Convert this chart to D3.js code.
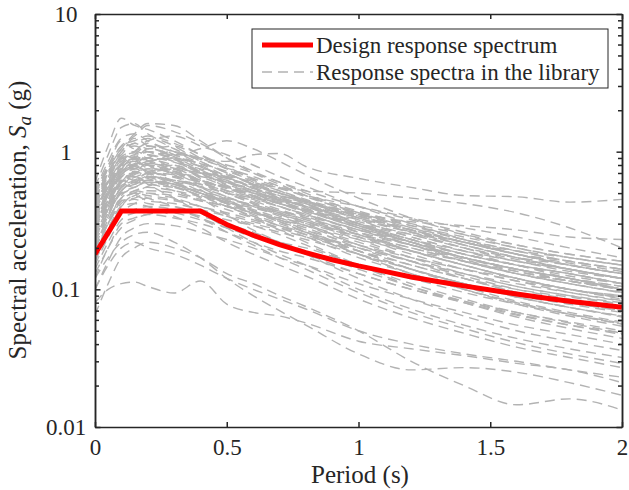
<!DOCTYPE html>
<html>
<head>
<meta charset="utf-8">
<script src="https://cdn.jsdelivr.net/npm/d3@7"></script>
<style>
  html, body { margin: 0; padding: 0; background: #ffffff; }
  svg { display: block; }
  text { font-family: "Liberation Serif", "Times New Roman", serif; fill: #262626; }
</style>
</head>
<body>
<script>
// ---------------- DATA ----------------
const periods = [0, 0.05, 0.1, 0.15, 0.2, 0.3, 0.4, 0.5, 0.6, 0.7, 0.8, 1.0, 1.2, 1.4, 1.6, 1.8, 2.0];

// Spectral accelerations (g) of the ground-motion library, one row per record
const librarySpectra = [
  [0.55,0.95,1.5,1.6,1.35,1.1,0.85,0.7,0.58,0.48,0.42,0.3,0.22,0.17,0.14,0.12,0.1],
  [0.5,0.8,1.1,1.3,1.55,1.4,1.15,0.9,0.72,0.6,0.5,0.36,0.27,0.21,0.17,0.14,0.12],
  [0.42,0.6,0.85,1.0,1.2,1.3,1.1,0.95,0.8,0.66,0.56,0.4,0.3,0.23,0.18,0.15,0.13],
  [0.38,0.55,0.8,0.9,0.85,0.95,0.9,0.8,0.7,0.6,0.52,0.4,0.32,0.26,0.21,0.18,0.16],
  [0.32,0.5,0.7,0.8,0.9,0.75,0.62,0.55,0.48,0.42,0.37,0.28,0.22,0.17,0.14,0.12,0.1],
  [0.28,0.42,0.6,0.65,0.7,0.68,0.58,0.5,0.44,0.38,0.33,0.25,0.19,0.15,0.12,0.1,0.088],
  [0.25,0.38,0.52,0.6,0.58,0.55,0.5,0.44,0.4,0.36,0.32,0.25,0.2,0.16,0.13,0.11,0.095],
  [0.35,0.55,0.75,0.7,0.8,0.72,0.6,0.5,0.42,0.35,0.3,0.21,0.16,0.12,0.095,0.08,0.07],
  [0.22,0.35,0.5,0.55,0.6,0.55,0.48,0.42,0.37,0.32,0.28,0.2,0.15,0.12,0.095,0.08,0.07],
  [0.3,0.45,0.65,0.75,0.7,0.6,0.5,0.42,0.35,0.3,0.26,0.19,0.14,0.11,0.088,0.074,0.064],
  [0.2,0.3,0.42,0.48,0.52,0.5,0.44,0.38,0.33,0.29,0.26,0.2,0.16,0.13,0.105,0.09,0.08],
  [0.45,0.7,1.0,1.1,1.0,0.9,0.78,0.65,0.55,0.47,0.4,0.29,0.22,0.17,0.135,0.115,0.1],
  [0.4,0.65,0.95,0.9,1.05,0.95,0.8,0.62,0.5,0.42,0.36,0.26,0.19,0.15,0.12,0.1,0.085],
  [0.18,0.28,0.4,0.45,0.42,0.4,0.36,0.32,0.29,0.26,0.23,0.18,0.14,0.11,0.09,0.078,0.068],
  [0.15,0.24,0.35,0.38,0.4,0.38,0.33,0.28,0.24,0.21,0.18,0.13,0.1,0.08,0.065,0.055,0.048],
  [0.33,0.5,0.68,0.8,0.85,0.9,0.78,0.65,0.55,0.46,0.4,0.3,0.23,0.18,0.15,0.13,0.11],
  [0.26,0.4,0.55,0.62,0.66,0.62,0.56,0.5,0.46,0.42,0.38,0.3,0.24,0.19,0.16,0.14,0.12],
  [0.12,0.2,0.28,0.32,0.35,0.33,0.3,0.26,0.22,0.19,0.17,0.13,0.1,0.082,0.068,0.058,0.05],
  [0.37,0.58,0.8,0.95,0.9,0.8,0.72,0.64,0.56,0.5,0.44,0.34,0.27,0.22,0.18,0.15,0.13],
  [0.24,0.36,0.5,0.52,0.5,0.46,0.4,0.34,0.29,0.25,0.21,0.15,0.11,0.085,0.068,0.057,0.048],
  [0.3,0.48,0.72,0.78,0.72,0.65,0.56,0.47,0.4,0.35,0.31,0.24,0.19,0.15,0.12,0.1,0.09],
  [0.48,0.75,1.1,1.2,1.3,1.15,0.95,0.78,0.63,0.52,0.44,0.32,0.24,0.19,0.15,0.13,0.11],
  [0.2,0.32,0.46,0.5,0.56,0.6,0.52,0.44,0.37,0.31,0.26,0.19,0.14,0.11,0.088,0.074,0.063],
  [0.16,0.25,0.36,0.42,0.46,0.44,0.4,0.35,0.31,0.28,0.25,0.2,0.16,0.13,0.11,0.095,0.083],
  [0.34,0.52,0.75,0.85,0.8,0.7,0.6,0.52,0.45,0.4,0.35,0.27,0.21,0.16,0.13,0.11,0.094],
  [0.27,0.42,0.6,0.68,0.75,0.7,0.6,0.5,0.42,0.36,0.31,0.23,0.17,0.13,0.105,0.09,0.078],
  [0.1,0.16,0.24,0.28,0.3,0.29,0.26,0.23,0.2,0.17,0.15,0.11,0.085,0.068,0.055,0.047,0.04],
  [0.43,0.68,0.92,1.0,0.95,0.85,0.7,0.57,0.47,0.4,0.34,0.25,0.19,0.15,0.12,0.1,0.087],
  [0.23,0.36,0.52,0.58,0.62,0.58,0.5,0.45,0.41,0.37,0.34,0.27,0.22,0.18,0.15,0.13,0.11],
  [0.19,0.3,0.44,0.5,0.48,0.45,0.4,0.36,0.32,0.28,0.24,0.17,0.13,0.1,0.08,0.066,0.056],
  [0.36,0.56,0.82,0.9,1.0,0.88,0.72,0.6,0.52,0.45,0.4,0.31,0.25,0.2,0.165,0.14,0.12],
  [0.29,0.45,0.66,0.7,0.64,0.56,0.48,0.4,0.34,0.29,0.25,0.18,0.13,0.1,0.08,0.066,0.056],
  [0.52,0.85,1.25,1.35,1.2,1.0,0.82,0.66,0.54,0.46,0.39,0.29,0.22,0.17,0.14,0.12,0.1],
  [0.14,0.22,0.32,0.36,0.38,0.36,0.32,0.28,0.25,0.22,0.2,0.15,0.12,0.095,0.078,0.066,0.057],
  [0.25,0.38,0.55,0.6,0.65,0.62,0.58,0.52,0.47,0.42,0.37,0.29,0.23,0.18,0.15,0.125,0.11],
  [0.38,0.6,0.85,0.88,0.8,0.68,0.55,0.45,0.37,0.31,0.26,0.18,0.13,0.1,0.078,0.064,0.054],
  [0.21,0.32,0.46,0.52,0.55,0.52,0.47,0.4,0.34,0.29,0.25,0.18,0.14,0.11,0.088,0.074,0.064],
  [0.31,0.48,0.68,0.75,0.82,0.78,0.66,0.56,0.48,0.42,0.37,0.29,0.23,0.19,0.16,0.135,0.12],
  [0.13,0.2,0.3,0.33,0.35,0.37,0.34,0.3,0.26,0.22,0.19,0.14,0.105,0.082,0.066,0.055,0.047],
  [0.26,0.4,0.57,0.6,0.66,0.6,0.5,0.42,0.36,0.31,0.27,0.21,0.17,0.14,0.12,0.1,0.09],
  [0.3,0.5,0.78,0.85,0.75,0.6,0.46,0.35,0.27,0.22,0.18,0.12,0.085,0.064,0.05,0.042,0.036],
  [0.26,0.42,0.62,0.66,0.58,0.46,0.36,0.28,0.22,0.18,0.15,0.1,0.072,0.055,0.044,0.037,0.032],
  [0.4,0.62,0.9,0.98,0.86,0.68,0.53,0.41,0.33,0.27,0.22,0.15,0.105,0.08,0.063,0.052,0.044],
  [0.22,0.34,0.5,0.5,0.46,0.4,0.33,0.26,0.21,0.17,0.14,0.095,0.068,0.052,0.041,0.034,0.029],
  [0.17,0.27,0.4,0.42,0.4,0.34,0.28,0.22,0.18,0.15,0.125,0.085,0.062,0.048,0.038,0.032,0.027],
  [0.28,0.44,0.68,0.78,0.85,0.9,0.82,0.72,0.62,0.54,0.48,0.4,0.33,0.28,0.24,0.2,0.17],
  [0.24,0.36,0.55,0.62,0.7,0.74,0.68,0.6,0.54,0.48,0.43,0.36,0.3,0.25,0.21,0.18,0.16],
  [0.33,0.52,0.75,0.8,0.7,0.58,0.5,0.43,0.37,0.32,0.27,0.19,0.14,0.105,0.082,0.068,0.058],
  [0.44,0.7,1.05,1.15,1.25,1.05,0.85,0.7,0.58,0.5,0.43,0.33,0.26,0.21,0.17,0.14,0.12],
  [0.2,0.3,0.44,0.46,0.5,0.48,0.44,0.4,0.36,0.32,0.29,0.23,0.19,0.16,0.13,0.115,0.1],
  [0.6,1.1,1.75,1.55,1.45,1.2,0.95,0.75,0.6,0.5,0.42,0.3,0.23,0.18,0.15,0.12,0.1],
  [0.5,0.75,1.05,1.35,1.6,1.55,1.2,0.9,0.7,0.58,0.48,0.35,0.26,0.2,0.16,0.14,0.12],
  [0.42,0.62,0.9,0.85,1.0,0.95,1.05,1.2,1.05,0.85,0.68,0.46,0.33,0.25,0.2,0.17,0.15],
  [0.32,0.48,0.72,0.8,0.9,1.0,0.9,0.85,0.95,0.97,0.78,0.64,0.55,0.48,0.47,0.43,0.45],
  [0.36,0.52,0.8,0.9,1.0,0.88,0.72,0.62,0.58,0.55,0.52,0.5,0.46,0.42,0.36,0.28,0.2],
  [0.26,0.4,0.62,0.7,0.75,0.72,0.62,0.54,0.48,0.44,0.4,0.35,0.31,0.29,0.27,0.24,0.23],
  [0.08,0.1,0.11,0.113,0.105,0.094,0.115,0.078,0.068,0.064,0.057,0.042,0.037,0.033,0.029,0.026,0.021],
  [0.065,0.11,0.17,0.2,0.22,0.2,0.17,0.13,0.11,0.09,0.075,0.05,0.03,0.02,0.0145,0.016,0.0133],
  [0.12,0.17,0.22,0.25,0.26,0.22,0.17,0.12,0.09,0.07,0.055,0.034,0.026,0.027,0.025,0.021,0.017],
  [0.1,0.15,0.2,0.22,0.2,0.18,0.15,0.12,0.1,0.085,0.072,0.05,0.04,0.034,0.03,0.026,0.023],
  [0.45,0.72,0.95,1.15,1.05,1.1,0.9,0.75,0.64,0.55,0.47,0.36,0.28,0.22,0.18,0.15,0.13],
  [0.35,0.6,0.9,0.8,0.95,0.85,0.75,0.68,0.58,0.5,0.44,0.33,0.26,0.21,0.17,0.14,0.12],
  [0.28,0.48,0.7,0.85,0.78,0.7,0.66,0.6,0.52,0.44,0.38,0.3,0.25,0.2,0.17,0.15,0.13],
  [0.4,0.55,0.75,0.95,1.1,0.9,0.7,0.55,0.46,0.4,0.35,0.27,0.21,0.17,0.14,0.115,0.1],
  [0.3,0.42,0.62,0.58,0.68,0.75,0.62,0.55,0.5,0.45,0.4,0.32,0.26,0.22,0.18,0.155,0.135],
  [0.22,0.38,0.55,0.66,0.6,0.52,0.45,0.4,0.36,0.33,0.3,0.24,0.2,0.16,0.135,0.115,0.1],
  [0.5,0.78,1.2,1.05,1.15,0.95,0.78,0.62,0.52,0.44,0.38,0.28,0.21,0.165,0.13,0.11,0.095],
  [0.26,0.4,0.6,0.7,0.82,0.76,0.7,0.64,0.57,0.5,0.44,0.34,0.27,0.22,0.18,0.15,0.13],
  [0.34,0.5,0.72,0.78,0.72,0.8,0.64,0.52,0.43,0.37,0.32,0.24,0.18,0.14,0.115,0.1,0.086],
  [0.18,0.3,0.48,0.55,0.6,0.58,0.5,0.43,0.39,0.35,0.31,0.25,0.21,0.17,0.14,0.12,0.105],
  [0.42,0.66,0.88,1.0,1.1,1.0,0.88,0.76,0.66,0.56,0.48,0.37,0.29,0.23,0.19,0.16,0.14],
  [0.3,0.44,0.6,0.72,0.66,0.58,0.52,0.46,0.41,0.37,0.33,0.26,0.21,0.17,0.14,0.12,0.105],
  [0.24,0.4,0.58,0.55,0.62,0.56,0.48,0.43,0.38,0.33,0.29,0.22,0.17,0.14,0.115,0.095,0.082],
  [0.36,0.56,0.8,0.75,0.85,0.72,0.62,0.56,0.52,0.48,0.43,0.34,0.27,0.22,0.18,0.16,0.14],
  [0.2,0.34,0.52,0.6,0.66,0.62,0.55,0.47,0.4,0.34,0.29,0.21,0.16,0.125,0.1,0.085,0.073],
  [0.46,0.7,1.0,1.25,1.1,0.92,0.74,0.6,0.5,0.43,0.37,0.28,0.22,0.18,0.15,0.13,0.11],
  [0.28,0.45,0.66,0.62,0.7,0.66,0.6,0.55,0.5,0.46,0.42,0.35,0.29,0.24,0.2,0.17,0.15],
  [0.16,0.26,0.4,0.48,0.44,0.42,0.38,0.34,0.3,0.27,0.24,0.19,0.15,0.12,0.1,0.088,0.078],
  [0.38,0.58,0.82,0.92,0.86,0.78,0.7,0.66,0.6,0.52,0.45,0.35,0.28,0.23,0.19,0.16,0.14],
  [0.32,0.52,0.76,0.82,0.9,0.84,0.7,0.58,0.5,0.45,0.41,0.33,0.27,0.22,0.19,0.17,0.15]
];

// Design response spectrum
const designPeriods = [0, 0.1, 0.4, 0.5, 0.6, 0.7, 0.8, 0.9, 1.0, 1.1, 1.2, 1.3, 1.4, 1.5, 1.6, 1.7, 1.8, 1.9, 2.0];
const designSa      = [0.18, 0.37, 0.37, 0.296, 0.247, 0.211, 0.185, 0.164, 0.148, 0.135, 0.123, 0.114, 0.106, 0.099, 0.0925, 0.087, 0.082, 0.078, 0.074];

const xTickValues = [0, 0.5, 1, 1.5, 2];
const xTickLabels = ["0", "0.5", "1", "1.5", "2"];
const yTickValues = [0.01, 0.1, 1, 10];
const yTickLabels = ["0.01", "0.1", "1", "10"];

const legendLabels = ["Design response spectrum", "Response spectra in the library"];

// ---------------- LAYOUT ----------------
const W = 629, H = 490;
const mLeft = 95, mRight = 622, mTop = 14, mBottom = 427;
const axisColor = "#262626";
const grayColor = "#b3b3b3";
const redColor = "#ff0000";

const svg = d3.select("body").append("svg").attr("width", W).attr("height", H);

const x = d3.scaleLinear().domain([0, 2]).range([mLeft, mRight]);
const y = d3.scaleLog().domain([0.01, 10]).range([mBottom, mTop]);

svg.append("defs").append("clipPath").attr("id", "plotclip")
  .append("rect").attr("x", mLeft).attr("y", mTop).attr("width", mRight - mLeft).attr("height", mBottom - mTop);

const line = d3.line()
  .x(d => x(d[0]))
  .y(d => y(d[1]))
  .curve(d3.curveMonotoneX);

const plot = svg.append("g").attr("clip-path", "url(#plotclip)");

plot.selectAll("path.lib")
  .data(librarySpectra)
  .enter().append("path")
  .attr("class", "lib")
  .attr("d", row => line(periods.map((p, i) => [p, row[i]])))
  .attr("fill", "none")
  .attr("stroke", grayColor)
  .attr("stroke-width", 1.4)
  .attr("stroke-dasharray", "10,6");

plot.append("path")
  .attr("d", d3.line().x(d => x(d[0])).y(d => y(d[1]))(designPeriods.map((p, i) => [p, designSa[i]])))
  .attr("fill", "none")
  .attr("stroke", redColor)
  .attr("stroke-width", 5);

// ---------------- AXES ----------------
const minorTicks = [];
[0.01, 0.1, 1].forEach(dec => { for (let k = 2; k <= 9; k++) minorTicks.push(dec * k); });

function styleAxis(g) {
  g.selectAll("path, line").attr("stroke", axisColor).attr("stroke-width", 1.5);
  g.selectAll("text").attr("fill", axisColor).style("font-family", "'Liberation Serif', serif").style("font-size", "23px");
}

// bottom
const gb = svg.append("g").attr("transform", `translate(0,${mBottom})`)
  .call(d3.axisBottom(x).tickValues(xTickValues).tickFormat((d, i) => xTickLabels[i]).tickSizeInner(-5).tickSizeOuter(0).tickPadding(12));
styleAxis(gb);
// top
const gt = svg.append("g").attr("transform", `translate(0,${mTop})`)
  .call(d3.axisTop(x).tickValues(xTickValues).tickFormat("").tickSizeInner(-5).tickSizeOuter(0));
styleAxis(gt);
// left
const gl = svg.append("g").attr("transform", `translate(${mLeft},0)`)
  .call(d3.axisLeft(y).tickValues(yTickValues).tickFormat((d, i) => yTickLabels[i]).tickSizeInner(-5.5).tickSizeOuter(0));
styleAxis(gl);
gl.selectAll("text").attr("x", -29).attr("text-anchor", "middle");
const glm = svg.append("g").attr("transform", `translate(${mLeft},0)`)
  .call(d3.axisLeft(y).tickValues(minorTicks).tickFormat("").tickSizeInner(-4).tickSizeOuter(0));
styleAxis(glm);
// right
const gr = svg.append("g").attr("transform", `translate(${mRight},0)`)
  .call(d3.axisRight(y).tickValues(yTickValues).tickFormat("").tickSizeInner(-5.5).tickSizeOuter(0));
styleAxis(gr);
const grm = svg.append("g").attr("transform", `translate(${mRight},0)`)
  .call(d3.axisRight(y).tickValues(minorTicks).tickFormat("").tickSizeInner(-4).tickSizeOuter(0));
styleAxis(grm);

// axis titles
svg.append("text")
  .attr("x", 360).attr("y", 483)
  .attr("text-anchor", "middle")
  .style("font-size", "25px")
  .text("Period (s)");

const yTitle = svg.append("text")
  .attr("transform", `translate(26,220) rotate(-90)`)
  .attr("text-anchor", "middle")
  .style("font-size", "25px");
yTitle.append("tspan").text("Spectral acceleration,  ");
yTitle.append("tspan").style("font-style", "italic").text("S");
yTitle.append("tspan").style("font-style", "italic").style("font-size", "19px").attr("dy", 5).text("a");
yTitle.append("tspan").attr("dy", -5).text("  (g)");

// ---------------- LEGEND ----------------
const lg = svg.append("g");
lg.append("rect").attr("x", 252).attr("y", 29).attr("width", 356).attr("height", 59)
  .attr("fill", "#ffffff").attr("stroke", axisColor).attr("stroke-width", 1);
lg.append("line").attr("x1", 262).attr("x2", 313).attr("y1", 45).attr("y2", 45)
  .attr("stroke", redColor).attr("stroke-width", 5);
lg.append("line").attr("x1", 262).attr("x2", 313).attr("y1", 72).attr("y2", 72)
  .attr("stroke", grayColor).attr("stroke-width", 1.4).attr("stroke-dasharray", "10,6");
lg.selectAll("text.leg").data(legendLabels).enter().append("text")
  .attr("class", "leg")
  .attr("x", 316).attr("y", (d, i) => 53 + i * 27)
  .style("font-size", "23px")
  .text(d => d);
</script>
</body>
</html>
